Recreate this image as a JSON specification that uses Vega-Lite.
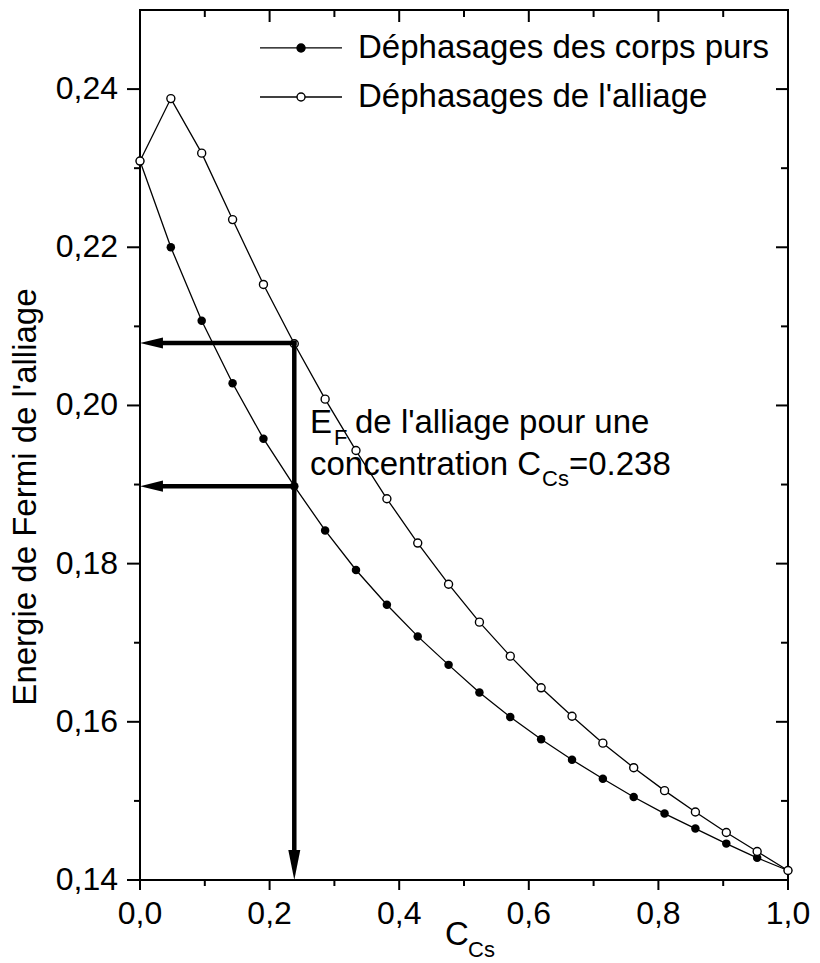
{
  "$schema": "https://vega.github.io/schema/vega-lite/v6.json",
  "width": 648,
  "height": 870,
  "autosize": {"type": "none"},
  "padding": {"left": 140, "top": 10, "right": 32, "bottom": 83},
  "background": "white",
  "config": {"view": {"stroke": "black", "strokeWidth": 2}, "font": "Liberation Sans"},
  "datasets": {
    "curves": [
      {"c": 0, "e": 0.2309, "s": "alliage"},
      {"c": 0.0476, "e": 0.2388, "s": "alliage"},
      {"c": 0.0952, "e": 0.2319, "s": "alliage"},
      {"c": 0.1429, "e": 0.2235, "s": "alliage"},
      {"c": 0.1905, "e": 0.2153, "s": "alliage"},
      {"c": 0.2381, "e": 0.2078, "s": "alliage"},
      {"c": 0.2857, "e": 0.2008, "s": "alliage"},
      {"c": 0.3333, "e": 0.1943, "s": "alliage"},
      {"c": 0.381, "e": 0.1882, "s": "alliage"},
      {"c": 0.4286, "e": 0.1826, "s": "alliage"},
      {"c": 0.4762, "e": 0.1774, "s": "alliage"},
      {"c": 0.5238, "e": 0.1726, "s": "alliage"},
      {"c": 0.5714, "e": 0.1683, "s": "alliage"},
      {"c": 0.619, "e": 0.1643, "s": "alliage"},
      {"c": 0.6667, "e": 0.1607, "s": "alliage"},
      {"c": 0.7143, "e": 0.1573, "s": "alliage"},
      {"c": 0.7619, "e": 0.1542, "s": "alliage"},
      {"c": 0.8095, "e": 0.1513, "s": "alliage"},
      {"c": 0.8571, "e": 0.1486, "s": "alliage"},
      {"c": 0.9048, "e": 0.146, "s": "alliage"},
      {"c": 0.9524, "e": 0.1436, "s": "alliage"},
      {"c": 1, "e": 0.1412, "s": "alliage"},
      {"c": 0, "e": 0.2309, "s": "pure"},
      {"c": 0.0476, "e": 0.22, "s": "pure"},
      {"c": 0.0952, "e": 0.2107, "s": "pure"},
      {"c": 0.1429, "e": 0.2028, "s": "pure"},
      {"c": 0.1905, "e": 0.1958, "s": "pure"},
      {"c": 0.2381, "e": 0.1898, "s": "pure"},
      {"c": 0.2857, "e": 0.1842, "s": "pure"},
      {"c": 0.3333, "e": 0.1792, "s": "pure"},
      {"c": 0.381, "e": 0.1748, "s": "pure"},
      {"c": 0.4286, "e": 0.1708, "s": "pure"},
      {"c": 0.4762, "e": 0.1672, "s": "pure"},
      {"c": 0.5238, "e": 0.1637, "s": "pure"},
      {"c": 0.5714, "e": 0.1606, "s": "pure"},
      {"c": 0.619, "e": 0.1578, "s": "pure"},
      {"c": 0.6667, "e": 0.1552, "s": "pure"},
      {"c": 0.7143, "e": 0.1528, "s": "pure"},
      {"c": 0.7619, "e": 0.1505, "s": "pure"},
      {"c": 0.8095, "e": 0.1484, "s": "pure"},
      {"c": 0.8571, "e": 0.1465, "s": "pure"},
      {"c": 0.9048, "e": 0.1446, "s": "pure"},
      {"c": 0.9524, "e": 0.1428, "s": "pure"},
      {"c": 1, "e": 0.1412, "s": "pure"}
    ],
    "xticks": [
      {"v": 0, "k": "M", "lab": "0,0"}, {"v": 0.1, "k": "m", "lab": ""}, {"v": 0.2, "k": "M", "lab": "0,2"}, {"v": 0.3, "k": "m", "lab": ""},
      {"v": 0.4, "k": "M", "lab": "0,4"}, {"v": 0.5, "k": "m", "lab": ""}, {"v": 0.6, "k": "M", "lab": "0,6"}, {"v": 0.7, "k": "m", "lab": ""},
      {"v": 0.8, "k": "M", "lab": "0,8"}, {"v": 0.9, "k": "m", "lab": ""}, {"v": 1, "k": "M", "lab": "1,0"}
    ],
    "yticks": [
      {"v": 0.14, "k": "M", "lab": "0,14"}, {"v": 0.15, "k": "m", "lab": ""}, {"v": 0.16, "k": "M", "lab": "0,16"}, {"v": 0.17, "k": "m", "lab": ""},
      {"v": 0.18, "k": "M", "lab": "0,18"}, {"v": 0.19, "k": "m", "lab": ""}, {"v": 0.2, "k": "M", "lab": "0,20"}, {"v": 0.21, "k": "m", "lab": ""},
      {"v": 0.22, "k": "M", "lab": "0,22"}, {"v": 0.23, "k": "m", "lab": ""}, {"v": 0.24, "k": "M", "lab": "0,24"}
    ],
    "arrows": [
      {"x": 0.2381, "x2": 0.03, "y": 0.2079, "y2": 0.2079},
      {"x": 0.2381, "x2": 0.03, "y": 0.1898, "y2": 0.1898},
      {"x": 0.2381, "x2": 0.2381, "y": 0.2079, "y2": 0.144}
    ],
    "heads": [
      {"x": 0, "y": 0.2079, "dir": "left"},
      {"x": 0, "y": 0.1898, "dir": "left"},
      {"x": 0.2381, "y": 0.14, "dir": "down"}
    ],
    "notes": [
      {"t": "E", "x": 0.2623, "y": 0.19652, "k": "main"},
      {"t": "F", "x": 0.2995, "y": 0.195, "k": "sub"},
      {"t": "de l'alliage pour une", "x": 0.3318, "y": 0.19652, "k": "main"},
      {"t": "concentration C", "x": 0.2623, "y": 0.19121, "k": "main"},
      {"t": "Cs", "x": 0.6204, "y": 0.18981, "k": "sub"},
      {"t": "=0.238", "x": 0.662, "y": 0.19121, "k": "main"},
      {"t": "C", "x": 0.4707, "y": 0.13178, "k": "main"},
      {"t": "Cs", "x": 0.5062, "y": 0.13026, "k": "sub"}
    ],
    "titles": [
      {"t": "Energie de Fermi de l'alliage", "x": -0.1605, "y": 0.18842}
    ],
    "legend": [
      {"s": "pure", "label": "Déphasages des corps purs", "y": 0.2452, "x1": 0.1852, "x2": 0.3117, "xm": 0.2485, "xt": 0.3364},
      {"s": "alliage", "label": "Déphasages de l'alliage", "y": 0.239, "x1": 0.1852, "x2": 0.3117, "xm": 0.2485, "xt": 0.3364}
    ]
  },
  "layer": [
    {
      "data": {"name": "curves"},
      "mark": {"type": "line", "color": "black", "strokeWidth": 1.3},
      "encoding": {
        "x": {"field": "c", "type": "quantitative", "scale": {"domain": [0, 1], "nice": false, "zero": false}, "axis": null},
        "y": {"field": "e", "type": "quantitative", "scale": {"domain": [0.14, 0.25], "nice": false, "zero": false}, "axis": null},
        "detail": {"field": "s"}
      }
    },
    {
      "data": {"name": "xticks"},
      "transform": [{"filter": "datum.k == 'M'"}],
      "mark": {"type": "tick", "orient": "vertical", "color": "black", "opacity": 1, "size": 10, "thickness": 2, "yOffset": 5},
      "encoding": {
        "x": {"field": "v", "type": "quantitative", "scale": {"domain": [0, 1], "nice": false, "zero": false}, "axis": null},
        "y": {"datum": 0.14, "type": "quantitative", "scale": {"domain": [0.14, 0.25], "nice": false, "zero": false}, "axis": null}
      }
    },
    {
      "data": {"name": "xticks"},
      "transform": [{"filter": "datum.k == 'm'"}],
      "mark": {"type": "tick", "orient": "vertical", "color": "black", "opacity": 1, "size": 6, "thickness": 2, "yOffset": 3},
      "encoding": {
        "x": {"field": "v", "type": "quantitative", "scale": {"domain": [0, 1], "nice": false, "zero": false}, "axis": null},
        "y": {"datum": 0.14, "type": "quantitative", "scale": {"domain": [0.14, 0.25], "nice": false, "zero": false}, "axis": null}
      }
    },
    {
      "data": {"name": "xticks"},
      "transform": [{"filter": "datum.k == 'M'"}],
      "mark": {"type": "tick", "orient": "vertical", "color": "black", "opacity": 1, "size": 12, "thickness": 2, "yOffset": 6},
      "encoding": {
        "x": {"field": "v", "type": "quantitative", "scale": {"domain": [0, 1], "nice": false, "zero": false}, "axis": null},
        "y": {"datum": 0.25, "type": "quantitative", "scale": {"domain": [0.14, 0.25], "nice": false, "zero": false}, "axis": null}
      }
    },
    {
      "data": {"name": "xticks"},
      "transform": [{"filter": "datum.k == 'm'"}],
      "mark": {"type": "tick", "orient": "vertical", "color": "black", "opacity": 1, "size": 7, "thickness": 2, "yOffset": 3.5},
      "encoding": {
        "x": {"field": "v", "type": "quantitative", "scale": {"domain": [0, 1], "nice": false, "zero": false}, "axis": null},
        "y": {"datum": 0.25, "type": "quantitative", "scale": {"domain": [0.14, 0.25], "nice": false, "zero": false}, "axis": null}
      }
    },
    {
      "data": {"name": "yticks"},
      "transform": [{"filter": "datum.k == 'M'"}],
      "mark": {"type": "tick", "orient": "horizontal", "color": "black", "opacity": 1, "size": 13, "thickness": 2, "xOffset": -6.5},
      "encoding": {
        "y": {"field": "v", "type": "quantitative", "scale": {"domain": [0.14, 0.25], "nice": false, "zero": false}, "axis": null},
        "x": {"datum": 0, "type": "quantitative", "scale": {"domain": [0, 1], "nice": false, "zero": false}, "axis": null}
      }
    },
    {
      "data": {"name": "yticks"},
      "transform": [{"filter": "datum.k == 'm'"}],
      "mark": {"type": "tick", "orient": "horizontal", "color": "black", "opacity": 1, "size": 6, "thickness": 2, "xOffset": -3},
      "encoding": {
        "y": {"field": "v", "type": "quantitative", "scale": {"domain": [0.14, 0.25], "nice": false, "zero": false}, "axis": null},
        "x": {"datum": 0, "type": "quantitative", "scale": {"domain": [0, 1], "nice": false, "zero": false}, "axis": null}
      }
    },
    {
      "data": {"name": "yticks"},
      "transform": [{"filter": "datum.k == 'M'"}],
      "mark": {"type": "tick", "orient": "horizontal", "color": "black", "opacity": 1, "size": 12, "thickness": 2, "xOffset": -6},
      "encoding": {
        "y": {"field": "v", "type": "quantitative", "scale": {"domain": [0.14, 0.25], "nice": false, "zero": false}, "axis": null},
        "x": {"datum": 1, "type": "quantitative", "scale": {"domain": [0, 1], "nice": false, "zero": false}, "axis": null}
      }
    },
    {
      "data": {"name": "yticks"},
      "transform": [{"filter": "datum.k == 'm'"}],
      "mark": {"type": "tick", "orient": "horizontal", "color": "black", "opacity": 1, "size": 7, "thickness": 2, "xOffset": -3.5},
      "encoding": {
        "y": {"field": "v", "type": "quantitative", "scale": {"domain": [0.14, 0.25], "nice": false, "zero": false}, "axis": null},
        "x": {"datum": 1, "type": "quantitative", "scale": {"domain": [0, 1], "nice": false, "zero": false}, "axis": null}
      }
    },
    {
      "data": {"name": "xticks"},
      "transform": [{"filter": "datum.k == 'M'"}],
      "mark": {"type": "text", "align": "center", "baseline": "top", "dy": 19, "fontSize": 32, "font": "Liberation Sans", "color": "black"},
      "encoding": {
        "x": {"field": "v", "type": "quantitative", "scale": {"domain": [0, 1], "nice": false, "zero": false}, "axis": null},
        "y": {"datum": 0.14, "type": "quantitative", "scale": {"domain": [0.14, 0.25], "nice": false, "zero": false}, "axis": null},
        "text": {"field": "lab"}
      }
    },
    {
      "data": {"name": "yticks"},
      "transform": [{"filter": "datum.k == 'M'"}],
      "mark": {"type": "text", "align": "right", "baseline": "middle", "dx": -22, "fontSize": 32, "font": "Liberation Sans", "color": "black"},
      "encoding": {
        "y": {"field": "v", "type": "quantitative", "scale": {"domain": [0.14, 0.25], "nice": false, "zero": false}, "axis": null},
        "x": {"datum": 0, "type": "quantitative", "scale": {"domain": [0, 1], "nice": false, "zero": false}, "axis": null},
        "text": {"field": "lab"}
      }
    },
    {
      "data": {"name": "titles"},
      "mark": {"type": "text", "align": "center", "baseline": "alphabetic", "angle": 270, "fontSize": 33, "font": "Liberation Sans", "color": "black"},
      "encoding": {
        "x": {"field": "x", "type": "quantitative", "scale": {"domain": [0, 1], "nice": false, "zero": false}, "axis": null},
        "y": {"field": "y", "type": "quantitative", "scale": {"domain": [0.14, 0.25], "nice": false, "zero": false}, "axis": null},
        "text": {"field": "t"}
      }
    },
    {
      "data": {"name": "curves"},
      "transform": [{"filter": "datum.s == 'pure'"}],
      "mark": {"type": "circle", "color": "black", "size": 72, "opacity": 1},
      "encoding": {
        "x": {"field": "c", "type": "quantitative", "scale": {"domain": [0, 1], "nice": false, "zero": false}, "axis": null},
        "y": {"field": "e", "type": "quantitative", "scale": {"domain": [0.14, 0.25], "nice": false, "zero": false}, "axis": null}
      }
    },
    {
      "data": {"name": "curves"},
      "transform": [{"filter": "datum.s == 'alliage'"}],
      "mark": {"type": "circle", "fill": "white", "stroke": "black", "strokeWidth": 1.4, "size": 64, "opacity": 1},
      "encoding": {
        "x": {"field": "c", "type": "quantitative", "scale": {"domain": [0, 1], "nice": false, "zero": false}, "axis": null},
        "y": {"field": "e", "type": "quantitative", "scale": {"domain": [0.14, 0.25], "nice": false, "zero": false}, "axis": null}
      }
    },
    {
      "data": {"name": "arrows"},
      "mark": {"type": "rule", "color": "black", "strokeWidth": 4.5, "strokeCap": "square"},
      "encoding": {
        "x": {"field": "x", "type": "quantitative", "scale": {"domain": [0, 1], "nice": false, "zero": false}, "axis": null},
        "x2": {"field": "x2"},
        "y": {"field": "y", "type": "quantitative", "scale": {"domain": [0.14, 0.25], "nice": false, "zero": false}, "axis": null},
        "y2": {"field": "y2"}
      }
    },
    {
      "data": {"name": "heads"},
      "mark": {"type": "point", "filled": true, "color": "black", "opacity": 1, "size": 900, "strokeWidth": 0},
      "encoding": {
        "x": {"field": "x", "type": "quantitative", "scale": {"domain": [0, 1], "nice": false, "zero": false}, "axis": null},
        "y": {"field": "y", "type": "quantitative", "scale": {"domain": [0.14, 0.25], "nice": false, "zero": false}, "axis": null},
        "shape": {"field": "dir", "type": "nominal", "legend": null,
          "scale": {"domain": ["left", "down"], "range": ["M 0 0 L 1.53 -0.37 L 1.53 0.37 Z", "M 0 0 L -0.4 -2 L 0.4 -2 Z"]}}
      }
    },
    {
      "data": {"name": "notes"},
      "transform": [{"filter": "datum.k == 'main'"}],
      "mark": {"type": "text", "align": "left", "baseline": "alphabetic", "fontSize": 33, "font": "Liberation Sans", "color": "black"},
      "encoding": {
        "x": {"field": "x", "type": "quantitative", "scale": {"domain": [0, 1], "nice": false, "zero": false}, "axis": null},
        "y": {"field": "y", "type": "quantitative", "scale": {"domain": [0.14, 0.25], "nice": false, "zero": false}, "axis": null},
        "text": {"field": "t"}
      }
    },
    {
      "data": {"name": "notes"},
      "transform": [{"filter": "datum.k == 'sub'"}],
      "mark": {"type": "text", "align": "left", "baseline": "alphabetic", "fontSize": 22, "font": "Liberation Sans", "color": "black"},
      "encoding": {
        "x": {"field": "x", "type": "quantitative", "scale": {"domain": [0, 1], "nice": false, "zero": false}, "axis": null},
        "y": {"field": "y", "type": "quantitative", "scale": {"domain": [0.14, 0.25], "nice": false, "zero": false}, "axis": null},
        "text": {"field": "t"}
      }
    },
    {
      "data": {"name": "legend"},
      "mark": {"type": "rule", "color": "black", "strokeWidth": 1.3},
      "encoding": {
        "x": {"field": "x1", "type": "quantitative", "scale": {"domain": [0, 1], "nice": false, "zero": false}, "axis": null},
        "x2": {"field": "x2"},
        "y": {"field": "y", "type": "quantitative", "scale": {"domain": [0.14, 0.25], "nice": false, "zero": false}, "axis": null}
      }
    },
    {
      "data": {"name": "legend"},
      "mark": {"type": "circle", "stroke": "black", "strokeWidth": 1.4, "size": 64, "opacity": 1},
      "encoding": {
        "x": {"field": "xm", "type": "quantitative", "scale": {"domain": [0, 1], "nice": false, "zero": false}, "axis": null},
        "y": {"field": "y", "type": "quantitative", "scale": {"domain": [0.14, 0.25], "nice": false, "zero": false}, "axis": null},
        "fill": {"field": "s", "type": "nominal", "legend": null, "scale": {"domain": ["pure", "alliage"], "range": ["black", "white"]}}
      }
    },
    {
      "data": {"name": "legend"},
      "mark": {"type": "text", "align": "left", "baseline": "middle", "fontSize": 33, "font": "Liberation Sans", "color": "black"},
      "encoding": {
        "x": {"field": "xt", "type": "quantitative", "scale": {"domain": [0, 1], "nice": false, "zero": false}, "axis": null},
        "y": {"field": "y", "type": "quantitative", "scale": {"domain": [0.14, 0.25], "nice": false, "zero": false}, "axis": null},
        "text": {"field": "label"}
      }
    }
  ]
}
